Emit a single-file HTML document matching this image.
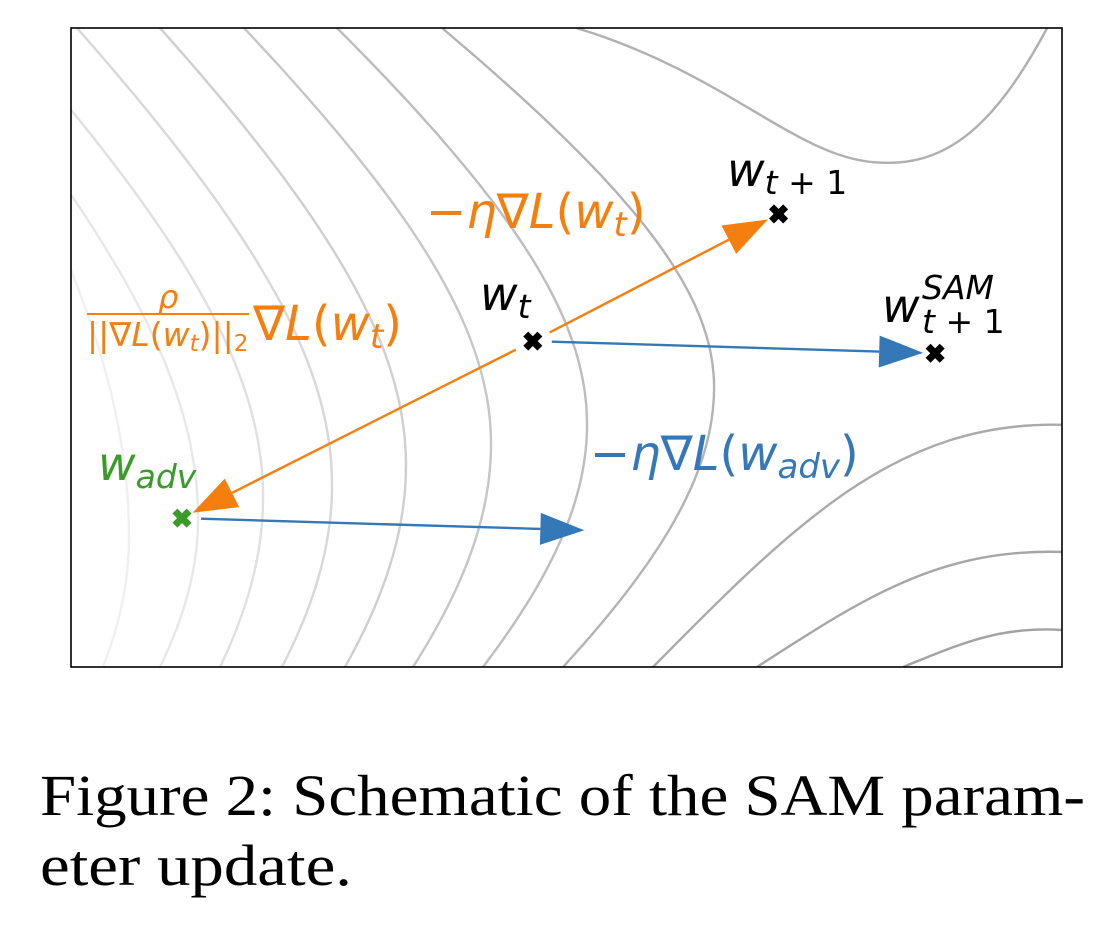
<!DOCTYPE html>
<html><head><meta charset="utf-8"><style>
html,body{margin:0;padding:0;background:#fff;}
svg{display:block;}
.m{font-family:"DejaVu Sans","Liberation Sans",sans-serif;font-style:italic;}
.cap{font-family:"Liberation Serif",serif;font-size:58px;fill:#000;}
</style></head><body>
<svg id="fig" width="1117" height="939" viewBox="0 0 1117 939" xmlns="http://www.w3.org/2000/svg">
<defs><clipPath id="plotclip"><rect x="71" y="28" width="991" height="639"/></clipPath></defs>
<g id="contours" clip-path="url(#plotclip)"></g>
<g id="arrows"></g>
<g id="markers"></g>
<rect x="71" y="28" width="991" height="639" fill="none" stroke="#000" stroke-width="1.6"/>
<g class="m">
<text x="480" y="310" font-size="46" fill="#000">w<tspan font-size="33" dy="8">t</tspan></text>
<text x="727" y="186" font-size="46" fill="#000">w<tspan font-size="33" dy="8">t</tspan><tspan font-size="33" font-style="normal"> + 1</tspan></text>
<text x="882" y="322" font-size="46" fill="#000">w</text>
<text x="922" y="299" font-size="33" fill="#000">SAM</text>
<text x="922" y="333" font-size="33" fill="#000">t<tspan font-style="normal"> + 1</tspan></text>
<text x="98" y="480" font-size="46" fill="#3a9a2a">w<tspan font-size="33" dy="8">adv</tspan></text>
<text x="426" y="228" font-size="48" fill="#f57f0e"><tspan font-style="normal">−</tspan>η∇L<tspan font-style="normal">(</tspan>w<tspan font-size="34" dy="8">t</tspan><tspan dy="-8" font-style="normal">)</tspan></text>
<text x="590" y="470" font-size="48" fill="#3478b8"><tspan font-style="normal">−</tspan>η∇L<tspan font-style="normal">(</tspan>w<tspan font-size="34" dy="8">adv</tspan><tspan dy="-8" font-style="normal">)</tspan></text>
<text x="158" y="308" font-size="32" fill="#f57f0e">ρ</text>
<line x1="87" y1="314" x2="249" y2="314" stroke="#f57f0e" stroke-width="2"/>
<text x="87" y="346" font-size="33" fill="#f57f0e"><tspan font-style="normal">||</tspan>∇L<tspan font-style="normal">(</tspan>w<tspan font-size="23" dy="5">t</tspan><tspan dy="-5" font-style="normal">)||</tspan><tspan font-size="23" dy="5" font-style="normal">2</tspan></text>
<text x="253" y="340" font-size="48" fill="#f57f0e">∇L<tspan font-style="normal">(</tspan>w<tspan font-size="34" dy="8">t</tspan><tspan dy="-8" font-style="normal">)</tspan></text>
</g>
<text class="cap" x="40" y="815" textLength="1045" lengthAdjust="spacingAndGlyphs">Figure 2: Schematic of the SAM param-</text>
<text class="cap" x="40" y="885" textLength="312" lengthAdjust="spacingAndGlyphs">eter update.</text>
</svg>
<script>
const pointNames = ["w_t","w_t1","w_sam","w_adv"];
const pointX = [0.466, 0.714, 0.872, 0.112];
const pointY = [0.510, 0.709, 0.491, 0.233];
const pointColors = ["#000","#000","#000","#3a9a2a"];
const arrowFrom = [0, 0, 0, 3];
const arrowTo = [1, 3, 2, 2];
const arrowColors = ["#f57f0e","#f57f0e","#3478b8","#3478b8"];
const contourTopX = [0.0, 0.0, 0.0, 0.0060, 0.0898, 0.1746, 0.2684, 0.3744];
const contourTopY = [0.621, 0.739, 0.872, 1, 1, 1, 1, 1];
const contourApexX = [0.0585, 0.1282, 0.1938, 0.2634, 0.3380, 0.4238, 0.5207, 0.6489];
const contourApexY = [0.202, 0.233, 0.266, 0.285, 0.316, 0.349, 0.380, 0.438];
const contourBotX = [0.0323, 0.0898, 0.1504, 0.2129, 0.2765, 0.3451, 0.4157, 0.4965];
const contourShade = ["#f0f0f0","#e8e8e8","#e0e0e0","#d8d8d8","#cfcfcf","#c6c6c6","#bdbdbd","#b3b3b3"];
const rightStartX = [0.5873, 0.6922, 0.8396];
const rightEndY = [0.379, 0.180, 0.058];
const X0=71, W=991, Y0=28, H=639;
const xs = v => X0 + v*W;
const ys = v => Y0 + (1-v)*H;
const NS="http://www.w3.org/2000/svg";
const cg=document.getElementById('contours');
function mk(tag, attrs, parent){const e=document.createElementNS(NS,tag);for(const k in attrs)e.setAttribute(k,attrs[k]);parent.appendChild(e);return e;}
function arc(x0,y0,xa,ya,xb,yb){
  const c=350;
  const d1=xa-x0, d2=xa-xb;
  const k1=Math.sqrt(Math.max((d1+c)*(d1+c)-c*c,1))/Math.abs(ya-y0);
  const k2=Math.sqrt(Math.max((d2+c)*(d2+c)-c*c,1))/Math.abs(yb-ya);
  let pts=[];
  const N=60;
  for(let j=0;j<=N;j++){const y=y0+(ya-y0)*j/N;pts.push([xa-(Math.sqrt(c*c+k1*k1*(y-ya)*(y-ya))-c),y]);}
  for(let j=1;j<=N;j++){const y=ya+(yb-ya)*j/N;pts.push([xa-(Math.sqrt(c*c+k2*k2*(y-ya)*(y-ya))-c),y]);}
  return 'M'+pts.map(p=>p[0].toFixed(1)+','+p[1].toFixed(1)).join(' L');
}
for(let i=0;i<contourApexX.length;i++){
  const p=mk('path',{d:arc(xs(contourTopX[i]),ys(contourTopY[i]),xs(contourApexX[i]),ys(contourApexY[i]),xs(contourBotX[i]),ys(0)),fill:'none',stroke:contourShade[i],'stroke-width':2.4},cg);
  
  
}
const rightShade=["#aaaaaa","#a6a6a6","#a2a2a2"];
for(let i=0;i<rightStartX.length;i++){
  const sx=xs(rightStartX[i]), sy=ys(0), ex=xs(1), ey=ys(rightEndY[i]);
  const p=mk('path',{d:`M${sx},${sy} C${sx+(ex-sx)*0.35},${sy-(sy-ey)*0.6} ${sx+(ex-sx)*0.6},${ey-4} ${ex},${ey}`,fill:'none',stroke:rightShade[i],'stroke-width':2.4},cg);
  
  
}
{
  const p=mk('path',{d:`M${xs(0.51)},${ys(1)} C${xs(0.66)},${ys(0.93)} ${xs(0.73)},${ys(0.80)} ${xs(0.81)},${ys(0.79)} C${xs(0.88)},${ys(0.78)} ${xs(0.93)},${ys(0.84)} ${xs(0.985)},${ys(1)}`,fill:'none',stroke:'#b0b0b0','stroke-width':2.4},cg);
  
  
}
const ag=document.getElementById('arrows');
for(let i=0;i<arrowFrom.length;i++){
  let fx=xs(pointX[arrowFrom[i]]), fy=ys(pointY[arrowFrom[i]]);
  let tx=xs(pointX[arrowTo[i]]), ty=ys(pointY[arrowTo[i]]);
  if(i===3){
    tx = fx + (xs(pointX[2])-xs(pointX[0]));
    ty = fy + (ys(pointY[2])-ys(pointY[0]));
  }
  const dx=tx-fx, dy=ty-fy, L=Math.hypot(dx,dy), ux=dx/L, uy=dy/L;
  const sx=fx+ux*19, sy=fy+uy*19, ex = i===3 ? tx : tx-ux*12, ey = i===3 ? ty : ty-uy*12;
  const hl=44, hw=16;
  const bx=ex-ux*hl, by=ey-uy*hl;
  const ln=mk('line',{x1:sx,y1:sy,x2:bx,y2:by,stroke:arrowColors[i],'stroke-width':2.4},ag);
  
  
  const hd=mk('polygon',{points:`${ex},${ey} ${bx-uy*hw},${by+ux*hw} ${bx+uy*hw},${by-ux*hw}`,fill:arrowColors[i]},ag);
  
  
}
const mg=document.getElementById('markers');
for(let i=0;i<pointX.length;i++){
  const cx=xs(pointX[i]), cy=ys(pointY[i]);
  const g=mk('g',{transform:`translate(${cx},${cy})`},mg);
  
  
  mk('rect',{x:-10,y:-3.5,width:20,height:7,fill:pointColors[i],transform:'rotate(45)'},g);
  mk('rect',{x:-10,y:-3.5,width:20,height:7,fill:pointColors[i],transform:'rotate(-45)'},g);
}
</script>
</body></html>
